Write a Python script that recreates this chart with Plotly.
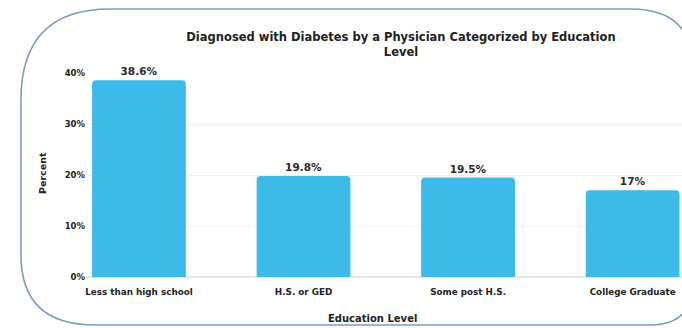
import plotly.graph_objects as go

categories = ["Less than high school", "H.S. or GED", "Some post H.S.", "College Graduate"]
values = [38.6, 19.8, 19.5, 17.0]
value_labels = ["38.6%", "19.8%", "19.5%", "17%"]
y_ticks = [0, 10, 20, 30, 40]
y_tick_labels = ["0%", "10%", "20%", "30%", "40%"]

W, H = 682, 328
ML, MR, MT, MB = 86, 0, 73, 51
PW, PH = W - ML - MR, H - MT - MB

def px(x):
    return (x - ML) / PW

def py(y):
    return (H - MB - y) / PH

FONT = "DejaVu Sans"

fig = go.Figure(go.Bar(
    x=list(range(len(categories))),
    y=values,
    width=0.57,
    marker=dict(color="#3DBBE8", cornerradius=4, line=dict(width=0)),
    text=value_labels,
    textposition="outside",
    textfont=dict(family=FONT, size=10.5, color="#2b2b2b", weight="bold"),
    cliponaxis=False,
))

pts = [
    ("M", 21, 100), ("Q", 21, 9, 110, 9), ("L", 630, 9), ("Q", 692, 9, 692, 65),
    ("L", 692, 285), ("Q", 692, 325, 650, 325), ("L", 95, 325), ("Q", 21, 325, 21, 255), ("Z",),
]
path = ""
for p in pts:
    cmd = p[0]
    nums = p[1:]
    coords = []
    for i in range(0, len(nums), 2):
        coords.append(f"{px(nums[i]):.4f},{py(nums[i+1]):.4f}")
    path += cmd + " " + " ".join(coords) + " "

fig.add_shape(type="path", xref="paper", yref="paper", path=path.strip(),
              line=dict(color="#7D9BBE", width=1.6), fillcolor="rgba(0,0,0,0)", layer="below")

fig.add_annotation(text="Education Level", xref="paper", yref="paper",
                   x=px(372), y=py(318), xanchor="center", yanchor="middle", showarrow=False,
                   font=dict(family=FONT, size=10, color="#222", weight="bold"))
fig.add_annotation(text="Percent", xref="paper", yref="paper", textangle=-90,
                   x=px(42), y=py(173), xanchor="center", yanchor="middle", showarrow=False,
                   font=dict(family=FONT, size=9.5, color="#222", weight="bold"))

fig.update_layout(
    width=W, height=H,
    margin=dict(l=ML, r=MR, t=MT, b=MB),
    paper_bgcolor="white", plot_bgcolor="white",
    showlegend=False,
    title=dict(text="Diagnosed with Diabetes by a Physician Categorized by Education<br>Level",
               xref="container", yref="container",
               x=401 / W, xanchor="center", y=1 - 41 / H, yanchor="middle",
               font=dict(family=FONT, size=11.5, color="#222", weight="bold")),
    xaxis=dict(
        tickmode="array", tickvals=list(range(len(categories))), ticktext=categories,
        range=[-0.322, 3.30], showgrid=False, zeroline=False, showline=False, ticks="",
        ticklabelstandoff=8,
        tickfont=dict(family=FONT, size=8.8, color="#222", weight="bold"),
    ),
    yaxis=dict(
        tickmode="array", tickvals=y_ticks, ticktext=y_tick_labels,
        range=[0, 40], showgrid=True, gridcolor="#EFEFEF", gridwidth=1,
        zeroline=True, zerolinecolor="#E6E6E6", showline=False, ticks="",
        tickfont=dict(family=FONT, size=8.5, color="#222", weight="bold"),
    ),
)

fig.write_html("out.html")
